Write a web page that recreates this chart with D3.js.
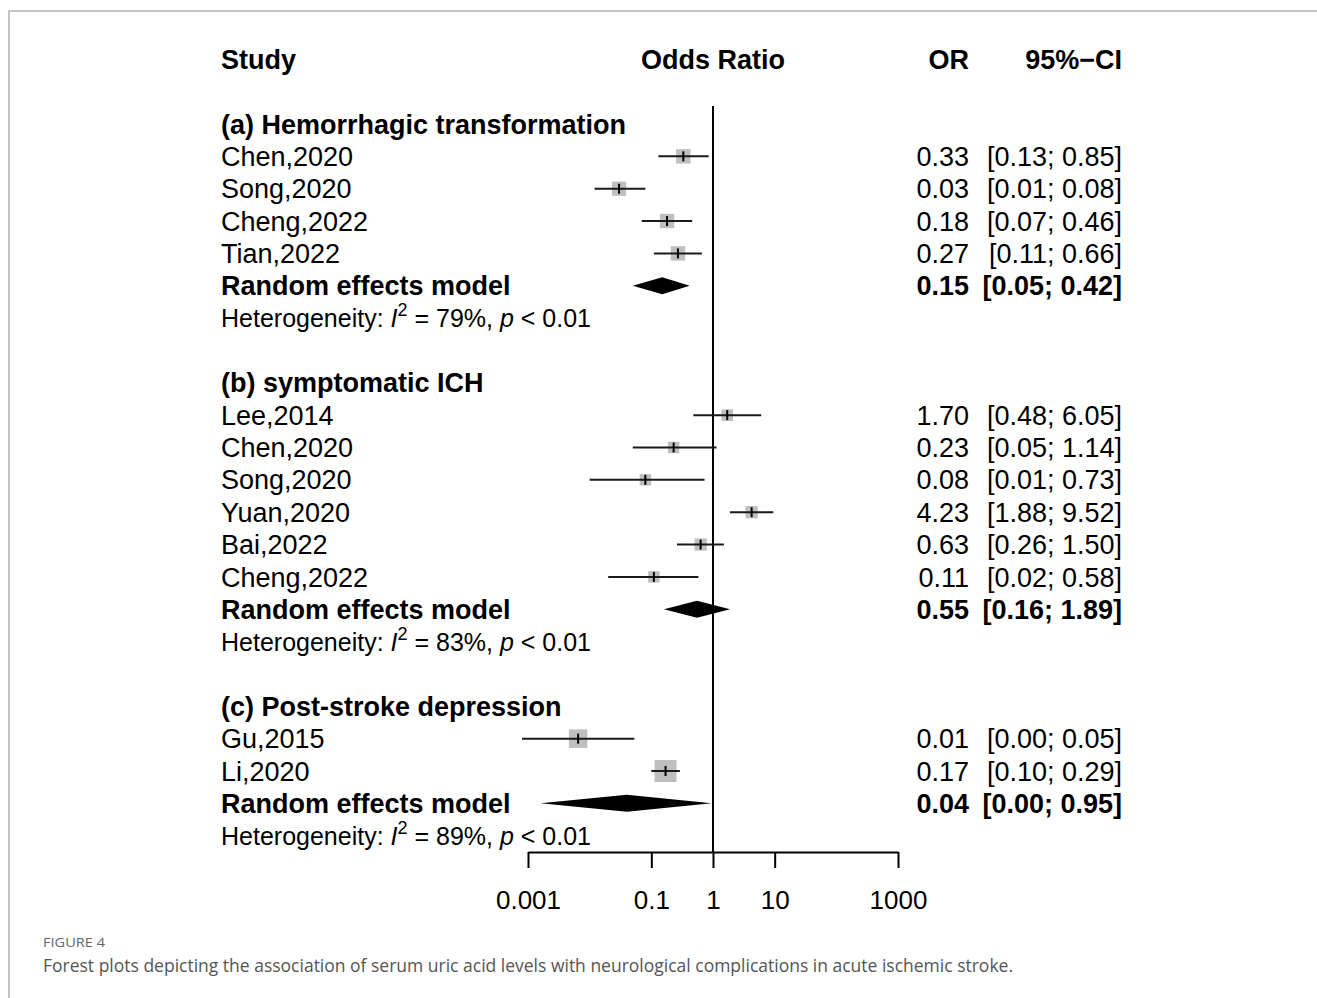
<!DOCTYPE html>
<html>
<head>
<meta charset="utf-8">
<script src="https://cdn.jsdelivr.net/npm/d3@7"></script>
<style>
  body { margin: 0; background: #fff; }
  svg { display: block; }
</style>
</head>
<body>
<svg id="chart" width="1317" height="998"></svg>
<script>
// data
var groupTitles = ["(a) Hemorrhagic transformation", "(b) symptomatic ICH", "(c) Post-stroke depression"];
var studyNames = [
    ["Chen,2020", "Song,2020", "Cheng,2022", "Tian,2022"],
    ["Lee,2014", "Chen,2020", "Song,2020", "Yuan,2020", "Bai,2022", "Cheng,2022"],
    ["Gu,2015", "Li,2020"]
];
var orEst = [
    [0.33, 0.03, 0.18, 0.27],
    [1.70, 0.23, 0.08, 4.23, 0.63, 0.11],
    [0.0065, 0.17]
];
var ciLow = [
    [0.13, 0.012, 0.07, 0.11],
    [0.48, 0.05, 0.01, 1.88, 0.26, 0.02],
    [0.0008, 0.10]
];
var ciHigh = [
    [0.85, 0.08, 0.46, 0.66],
    [6.05, 1.14, 0.73, 9.52, 1.50, 0.58],
    [0.053, 0.29]
];
var weights = [
    [25.3, 24.5, 25.0, 25.2],
    [16.4, 15.9, 15.9, 18.3, 18.3, 15.9],
    [41.5, 58.5]
];
var poolEst = [0.15, 0.55, 0.04];
var poolLow = [0.05, 0.16, 0.0016];
var poolHigh = [0.42, 1.89, 0.95];
var hetI2 = [79, 83, 89];
var hetP = ["< 0.01", "< 0.01", "< 0.01"];
var tickValues = [0.001, 0.1, 1, 10, 1000];

var svg = d3.select("#chart");
var font = "Liberation Sans, Arial, Helvetica, sans-serif";
var fs = 27;

var x = d3.scaleLog().domain([0.001, 1000]).range([528, 898]);
var row = d3.scaleLinear().domain([0, 1]).range([124, 156.35]);
var size = d3.scaleSqrt().domain([0, 100]).range([0, 28.7]);
var fmt = d3.format(".2f");
var axisY = 852;

// panel frame
svg.append("path")
    .attr("d", "M9,998V11H1317")
    .attr("fill", "none")
    .attr("stroke", "#c4c4c4")
    .attr("stroke-width", 2)

function label(txt, xx, yy, anchor, bold) {
    return svg.append("text")
        .attr("x", xx)
        .attr("y", yy + 9.6)
        .attr("text-anchor", anchor)
        .attr("font-family", font)
        .attr("font-size", fs + "px")
        .attr("font-weight", bold ? "bold" : "normal")
        .attr("fill", "black")
        .text(txt)
}

// column headers
label("Study", 221, 59, "start", true)
label("Odds Ratio", x(1), 59, "middle", true)
label("OR", 969, 59, "end", true)
label("95%\u2212CI", 1122, 59, "end", true)

// reference line at OR = 1
svg.append("line")
    .attr("x1", x(1)).attr("x2", x(1))
    .attr("y1", 106).attr("y2", axisY)
    .attr("stroke", "black")
    .attr("stroke-width", 2)

var r = 0;
for (var g = 0; g < groupTitles.length; g++) {
    label(groupTitles[g], 221, row(r), "start", true)

    for (var i = 0; i < studyNames[g].length; i++) {
        var yy = row(r + 1 + i);
        var s = size(weights[g][i]);
        label(studyNames[g][i], 221, yy, "start", false)

        svg.append("rect")
            .attr("x", x(orEst[g][i]) - s / 2)
            .attr("y", yy - s / 2)
            .attr("width", s)
            .attr("height", s)
            .attr("fill", "#bfbfbf")

        svg.append("line")
            .attr("x1", x(ciLow[g][i])).attr("x2", x(ciHigh[g][i]))
            .attr("y1", yy).attr("y2", yy)
            .attr("stroke", "#1a1a1a")
            .attr("stroke-width", 2)

        svg.append("line")
            .attr("x1", x(orEst[g][i])).attr("x2", x(orEst[g][i]))
            .attr("y1", yy - 5).attr("y2", yy + 5)
            .attr("stroke", "black")
            .attr("stroke-width", 2)

        label(fmt(orEst[g][i]), 969, yy, "end", false)
        label("[" + fmt(ciLow[g][i]) + "; " + fmt(ciHigh[g][i]) + "]", 1122, yy, "end", false)
    }

    var py = row(r + 1 + studyNames[g].length);
    label("Random effects model", 221, py, "start", true)
    svg.append("polygon")
        .attr("points", [
            [x(poolLow[g]), py], [x(poolEst[g]), py - 8.5],
            [x(poolHigh[g]), py], [x(poolEst[g]), py + 8.5]
        ].join(" "))
        .attr("fill", "black")
    label(fmt(poolEst[g]), 969, py, "end", true)
    label("[" + fmt(poolLow[g]) + "; " + fmt(poolHigh[g]) + "]", 1122, py, "end", true)

    // heterogeneity line
    var hy = row(r + 2 + studyNames[g].length);
    var het = svg.append("text")
        .attr("x", 221)
        .attr("y", hy + 9)
        .attr("font-family", font)
        .attr("font-size", "25px")
        .attr("fill", "black")
    het.append("tspan").text("Heterogeneity: ")
    het.append("tspan").attr("font-style", "italic").text("I")
    het.append("tspan").attr("font-size", "18px").attr("dy", -11).text("2")
    het.append("tspan").attr("dy", 11).text(" = " + hetI2[g] + "%, ")
    het.append("tspan").attr("font-style", "italic").text("p")
    het.append("tspan").text(" " + hetP[g])

    r += studyNames[g].length + 4;
}

// x axis
var axis = svg.append("g")
    .attr("transform", "translate(0," + axisY + ")")
    .call(d3.axisBottom(x)
        .tickValues(tickValues)
        .tickFormat(d3.format("~g"))
        .tickSize(16)
        .tickSizeOuter(0)
        .tickPadding(23))

axis.select(".domain").attr("stroke", "black").attr("stroke-width", 2)
axis.selectAll(".tick line").attr("stroke", "black").attr("stroke-width", 2)
axis.selectAll(".tick text")
    .attr("font-family", font)
    .attr("font-size", "26px")
    .attr("fill", "black")

// caption
svg.append("text")
    .attr("x", 43)
    .attr("y", 947)
    .attr("font-family", "Open Sans, Noto Sans, sans-serif")
    .attr("font-size", "13px")
    .attr("fill", "#666")
    .attr("textLength", 62)
    .attr("lengthAdjust", "spacingAndGlyphs")
    .text("FIGURE 4")

svg.append("text")
    .attr("x", 43)
    .attr("y", 972)
    .attr("font-family", "Open Sans, Noto Sans, sans-serif")
    .attr("font-size", "18px")
    .attr("fill", "#555")
    .attr("textLength", 970)
    .attr("lengthAdjust", "spacingAndGlyphs")
    .text("Forest plots depicting the association of serum uric acid levels with neurological complications in acute ischemic stroke.")
</script>
</body>
</html>
